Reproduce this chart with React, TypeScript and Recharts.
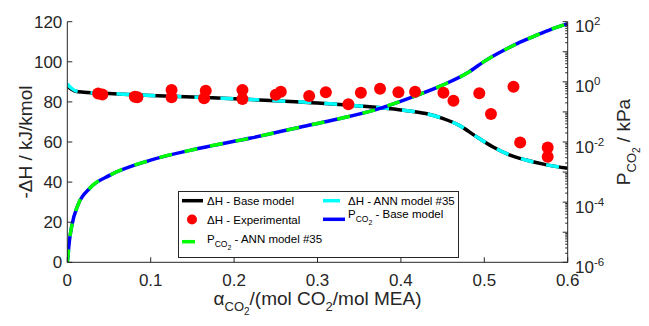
import React from "react";
import { ComposedChart, Line, Scatter, XAxis, YAxis } from "recharts";

// ---- data ----
const alphaDH = [0, 0.005, 0.01, 0.02, 0.05, 0.1, 0.15, 0.2, 0.25, 0.3, 0.35, 0.4, 0.43, 0.45, 0.47, 0.49, 0.51, 0.53, 0.55, 0.575, 0.6];
const dhBase = [87.8, 86.3, 85.3, 84.8, 84.2, 83.2, 82.4, 81.6, 80.6, 79.5, 78.0, 76.0, 74.2, 71.8, 68.3, 62.8, 57.6, 53.6, 51.0, 48.6, 46.9];
const dhAnn = [89.0, 86.8, 85.5, 84.8, 84.2, 83.2, 82.4, 81.6, 80.6, 79.5, 78.0, 76.0, 74.2, 71.8, 68.3, 62.8, 57.6, 53.6, 51.0, 48.6, 46.9];

const alphaP = [0, 0.001, 0.002, 0.0056, 0.0128, 0.0272, 0.0512, 0.1, 0.16, 0.22, 0.28, 0.315, 0.375, 0.415, 0.45, 0.48, 0.5, 0.52, 0.54, 0.56, 0.58, 0.6];
const pBase = [1e-6, 1.8e-6, 3.8e-6, 1.74e-5, 8.1e-5, 2.95e-4, 7.9e-4, 2.5e-3, 6.3e-3, 0.0135, 0.0316, 0.051, 0.132, 0.324, 0.78, 2.0, 4.8, 10, 19, 33, 56, 85];
const pAnn = [1e-6, 1.8e-6, 3.8e-6, 1.74e-5, 8.1e-5, 2.95e-4, 7.9e-4, 2.5e-3, 6.3e-3, 0.0135, 0.0316, 0.051, 0.132, 0.324, 0.78, 2.0, 4.8, 10, 19, 33, 56, 85];

const expAlpha = [0.037, 0.042, 0.081, 0.084, 0.125, 0.125, 0.166, 0.164, 0.21, 0.21, 0.25, 0.256, 0.29, 0.31, 0.337, 0.352, 0.375, 0.397, 0.417, 0.451, 0.463, 0.494, 0.508, 0.535, 0.543, 0.576, 0.576];
const expDH = [84.2, 83.7, 82.6, 82.3, 85.9, 82.3, 85.6, 81.8, 85.9, 81.5, 83.6, 85.1, 83.0, 84.8, 78.8, 84.6, 86.6, 84.8, 85.1, 84.6, 80.6, 84.3, 74.0, 87.6, 59.7, 57.2, 52.7];

const xTicks = [0, 0.1, 0.2, 0.3, 0.4, 0.5, 0.6];
const leftTicks = [0, 20, 40, 60, 80, 100, 120];
const rightMajorExp = [-6, -5, -4, -3, -2, -1, 0, 1, 2];
const rightLabelExp = [-6, -4, -2, 0, 2];

// ---- tables for the library ----
const dhData = alphaDH.map((a, i) => ({ a, base: dhBase[i], ann: dhAnn[i] }));
const pData = alphaP.map((a, i) => ({ a, base: pBase[i], ann: pAnn[i] }));
const expData = expAlpha.map((a, i) => ({ a, dh: expDH[i] }));

const rightTicks: number[] = [];
rightMajorExp.forEach((e) => {
  if (e === 2) {
    rightTicks.push(100);
    return;
  }
  for (let k = 1; k <= 9; k++) rightTicks.push(Number((k * Math.pow(10, e)).toPrecision(6)));
});

const AX = "#262626";
const FONT = "'Liberation Sans', Arial, sans-serif";

const LeftTick = (props: any) => {
  const { x, y, payload } = props;
  return (
    <g>
      <line x1={x} x2={x + 5} y1={y} y2={y} stroke={AX} strokeWidth={1} />
      <text x={x - 5} y={y} dy="0.36em" textAnchor="end" fontSize={17} fill={AX} fontFamily={FONT}>
        {String(payload.value)}
      </text>
    </g>
  );
};

const BottomTick = (props: any) => {
  const { x, y, payload } = props;
  return (
    <g>
      <line x1={x} x2={x} y1={y} y2={y - 5} stroke={AX} strokeWidth={1} />
      <text x={x} y={y + 23.5} textAnchor="middle" fontSize={17} fill={AX} fontFamily={FONT}>
        {String(payload.value)}
      </text>
    </g>
  );
};

const TopTick = (props: any) => {
  const { x, y } = props;
  return <line x1={x} x2={x} y1={y} y2={y + 5} stroke={AX} strokeWidth={1} />;
};

const RightTick = (props: any) => {
  const { x, y, payload } = props;
  const v = payload.value as number;
  const lg = Math.log10(v);
  const e = Math.round(lg);
  const isMajor = Math.abs(lg - e) < 1e-6;
  const showLabel = isMajor && rightLabelExp.includes(e);
  return (
    <g>
      <line x1={x} x2={x - (isMajor ? 5 : 2.5)} y1={y} y2={y} stroke={AX} strokeWidth={1} />
      {showLabel && (
        <text x={x + 7.3} y={y + 10.5} fontSize={17} fill={AX} fontFamily={FONT}>
          10
          <tspan dy={-7} fontSize={11.5}>{String(e)}</tspan>
        </text>
      )}
    </g>
  );
};

const LeftLabel = () => (
  <text
    x={24}
    y={134}
    transform="rotate(-90 24 134)"
    textAnchor="middle"
    fontSize={19}
    fill={AX}
    fontFamily={FONT}
  >
    -ΔH / kJ/kmol
  </text>
);

const RightLabel = () => (
  <text
    x={622}
    y={134}
    transform="rotate(-90 622 134)"
    textAnchor="middle"
    fontSize={19}
    fill={AX}
    fontFamily={FONT}
  >
    P
    <tspan dy={6} fontSize={13}>CO</tspan>
    <tspan dy={4} fontSize={10}>2</tspan>
    <tspan dy={-10} fontSize={19}> / kPa</tspan>
  </text>
);

const BottomLabel = () => (
  <text x={309.5} y={297} textAnchor="middle" fontSize={19} fill={AX} fontFamily={FONT}>
    α
    <tspan dy={6} fontSize={13}>CO</tspan>
    <tspan dy={4} fontSize={10}>2</tspan>
    <tspan dy={-10} fontSize={19}>/(mol CO</tspan>
    <tspan dy={6} fontSize={13}>2</tspan>
    <tspan dy={-6} fontSize={19}>/mol MEA)</tspan>
  </text>
);

const Dot = (props: any) => <circle cx={props.cx} cy={props.cy} r={6} fill="#ff0000" />;

const LegendBox = () => {
  const fs = 11.5;
  return (
    <svg width={282} height={68} style={{ display: "block" }}>
      <rect x={0.5} y={0.5} width={280} height={66} fill="#ffffff" stroke={AX} strokeWidth={1} />
      {/* row 1 */}
      <line x1={4} x2={25} y1={9.7} y2={9.7} stroke="#000000" strokeWidth={3.5} />
      <text x={29} y={14} fontSize={fs} fill="#000" fontFamily={FONT}>ΔH - Base model</text>
      <line x1={145} x2={162} y1={9.7} y2={9.7} stroke="#00ffff" strokeWidth={3.5} />
      <text x={170} y={14} fontSize={fs} fill="#000" fontFamily={FONT}>ΔH - ANN model #35</text>
      {/* row 2 */}
      <circle cx={14} cy={28.5} r={5} fill="#ff0000" />
      <text x={29} y={33} fontSize={fs} fill="#000" fontFamily={FONT}>ΔH - Experimental</text>
      <line x1={145} x2={167} y1={28.3} y2={28.3} stroke="#0000ff" strokeWidth={3.5} />
      <text x={170} y={27.3} fontSize={fs} fill="#000" fontFamily={FONT}>
        P<tspan dy={4} fontSize={8.5}>CO</tspan>
        <tspan dy={3} fontSize={7}>2</tspan>
        <tspan dy={-7} fontSize={fs}> - Base model</tspan>
      </text>
      {/* row 3 */}
      <line x1={4} x2={17} y1={50.7} y2={50.7} stroke="#00ff00" strokeWidth={3.5} />
      <text x={29} y={52.3} fontSize={fs} fill="#000" fontFamily={FONT}>
        P<tspan dy={4} fontSize={8.5}>CO</tspan>
        <tspan dy={3} fontSize={7}>2</tspan>
        <tspan dy={-7} fontSize={fs}> - ANN model #35</tspan>
      </text>
    </svg>
  );
};

export default function App() {
  return (
    <div style={{ position: "relative", width: 641, height: 310, fontFamily: FONT }}>
      <ComposedChart
        width={641}
        height={310}
        margin={{ top: 13.7, right: 21.3, bottom: 10.7, left: 9.3 }}
        style={{ background: "#ffffff" }}
      >
        <XAxis
          xAxisId="b"
          dataKey="a"
          type="number"
          domain={[0, 0.6]}
          ticks={xTicks}
          allowDataOverflow
          height={45}
          tickSize={0}
          tickMargin={0}
          tickLine={false}
          tick={<BottomTick />}
          axisLine={{ stroke: AX, strokeWidth: 1 }}
          label={<BottomLabel />}
        />
        <XAxis
          xAxisId="t"
          orientation="top"
          type="number"
          domain={[0, 0.6]}
          ticks={xTicks}
          allowDataOverflow
          height={0}
          tickSize={0}
          tickMargin={0}
          tickLine={false}
          tick={<TopTick />}
          axisLine={{ stroke: AX, strokeWidth: 1 }}
        />
        <YAxis
          yAxisId="L"
          type="number"
          domain={[0, 120]}
          ticks={leftTicks}
          allowDataOverflow
          width={50}
          tickSize={0}
          tickMargin={0}
          tickLine={false}
          tick={<LeftTick />}
          axisLine={{ stroke: AX, strokeWidth: 1 }}
          label={<LeftLabel />}
        />
        <YAxis
          yAxisId="R"
          orientation="right"
          type="number"
          scale="log"
          domain={[1e-6, 100]}
          ticks={rightTicks}
          interval={0}
          allowDataOverflow
          width={60}
          tickSize={0}
          tickMargin={0}
          tickLine={false}
          tick={<RightTick />}
          axisLine={{ stroke: AX, strokeWidth: 1 }}
          label={<RightLabel />}
        />
        <Line
          xAxisId="b"
          yAxisId="L"
          data={dhData}
          dataKey="base"
          type="monotone"
          stroke="#000000"
          strokeWidth={3.5}
          dot={false}
          isAnimationActive={false}
        />
        <Line
          xAxisId="b"
          yAxisId="L"
          data={dhData}
          dataKey="ann"
          type="monotone"
          stroke="#00ffff"
          strokeWidth={3.5}
          strokeDasharray="13 13"
          dot={false}
          isAnimationActive={false}
        />
        <Scatter
          xAxisId="b"
          yAxisId="L"
          data={expData}
          dataKey="dh"
          shape={<Dot />}
          isAnimationActive={false}
        />
        <Line
          xAxisId="b"
          yAxisId="R"
          data={pData}
          dataKey="base"
          type="monotone"
          stroke="#0000ff"
          strokeWidth={3.5}
          dot={false}
          isAnimationActive={false}
        />
        <Line
          xAxisId="b"
          yAxisId="R"
          data={pData}
          dataKey="ann"
          type="monotone"
          stroke="#00ff00"
          strokeWidth={3.5}
          strokeDasharray="13 13"
          dot={false}
          isAnimationActive={false}
        />
      </ComposedChart>
      <div style={{ position: "absolute", left: 170, top: 183 }}>
        <LegendBox />
      </div>
    </div>
  );
}
